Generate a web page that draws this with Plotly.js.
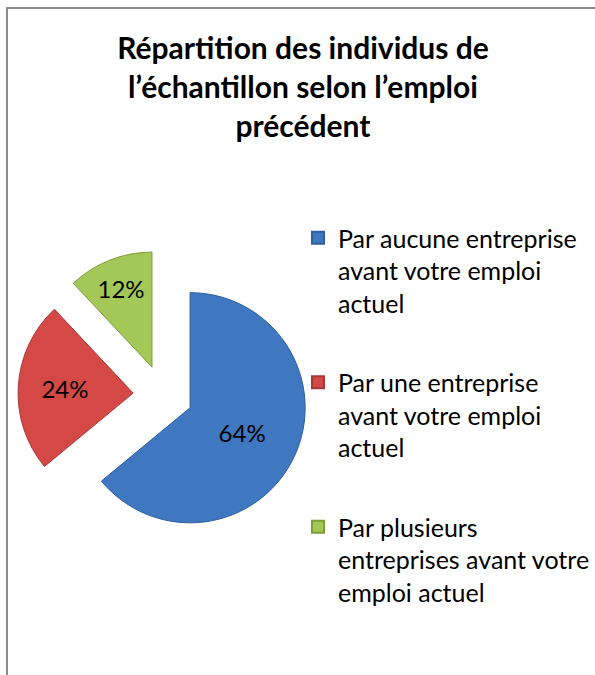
<!DOCTYPE html>
<html>
<head>
<meta charset="utf-8">
<script src="https://cdn.plot.ly/plotly-3.0.1.min.js"></script>
<style>html,body{margin:0;padding:0;background:#fff;}#chart{width:595px;height:675px;}</style>
</head>
<body>
<div id="chart"></div>
<script>
// ---- data ----
const categories = [
  "Par aucune entreprise avant votre emploi actuel",
  "Par une entreprise avant votre emploi actuel",
  "Par plusieurs entreprises avant votre emploi actuel"
];
const shares = [64, 24, 12];
const sliceColors = ["#3F77C0", "#D44846", "#A4C857"];
const edgeColors = ["#2F5F9E", "#A83836", "#7E9E3C"];
const chartTitle = "Répartition des individus de<br>l’échantillon selon l’emploi<br>précédent";

// wrap legend text like the original (about 23 characters per line)
function wrap(text, maxLen) {
  const words = text.split(" ");
  const lines = [];
  let cur = "";
  words.forEach(w => {
    if (cur && (cur + " " + w).length > maxLen) { lines.push(cur); cur = w; }
    else { cur = cur ? cur + " " + w : w; }
  });
  if (cur) lines.push(cur);
  return lines.join("<br>");
}
const legendLabels = categories.map(c => wrap(c, 23));

const FONT = "Lato, 'Open Sans', sans-serif";

const pie = {
  type: "pie",
  labels: categories,
  values: shares,
  sort: false,
  direction: "clockwise",
  rotation: 0,
  pull: [0.26, 0.26, 0.26],
  marker: { colors: sliceColors, line: { color: edgeColors, width: 1 } },
  textinfo: "percent",
  textposition: "inside",
  insidetextorientation: "horizontal",
  textfont: { family: FONT, size: 24, color: "#000" },
  hoverinfo: "label+percent",
  showlegend: false,
  domain: { x: [18/595, 308/595], y: [135/675, 425/675] }
};

// legend entries (one per category, same colours as the slices)
const legendTraces = categories.map((c, i) => ({
  type: "scatter",
  mode: "markers",
  x: [null], y: [null],
  name: legendLabels[i],
  legendgroup: "g" + i,
  marker: { symbol: "square", size: 13, color: sliceColors[i], line: { color: edgeColors[i], width: 1 } },
  showlegend: true,
  hoverinfo: "skip"
}));

const layout = {
  width: 595,
  height: 675,
  margin: { l: 0, r: 0, t: 0, b: 0 },
  paper_bgcolor: "#fff",
  plot_bgcolor: "rgba(0,0,0,0)",
  font: { family: FONT, color: "#000" },
  xaxis: { visible: false, domain: [0.6, 0.61] },
  yaxis: { visible: false, domain: [0.0, 0.01] },
  title: {
    text: "<b>" + chartTitle + "</b>",
    font: { family: FONT, size: 30, color: "#000" },
    x: 303/595, xanchor: "center",
    xref: "paper",
    y: 1 - 59/675, yanchor: "top",
    yref: "container"
  },
  showlegend: true,
  legend: {
    x: 298/595, xanchor: "left",
    y: 1 - 215/675, yanchor: "top",
    font: { family: FONT, size: 25, color: "#000" },
    bgcolor: "rgba(0,0,0,0)",
    valign: "top",
    traceorder: "grouped",
    tracegroupgap: 44,
    itemsizing: "constant"
  },
  shapes: [{
    type: "rect", xref: "paper", yref: "paper",
    x0: 7/595, x1: 1.02, y0: -0.02, y1: 1 - 8/675,
    line: { color: "#8C8C8C", width: 2 }
  }]
};

Plotly.newPlot("chart", [pie].concat(legendTraces), layout, { displayModeBar: false, staticPlot: true });
</script>
</body>
</html>
